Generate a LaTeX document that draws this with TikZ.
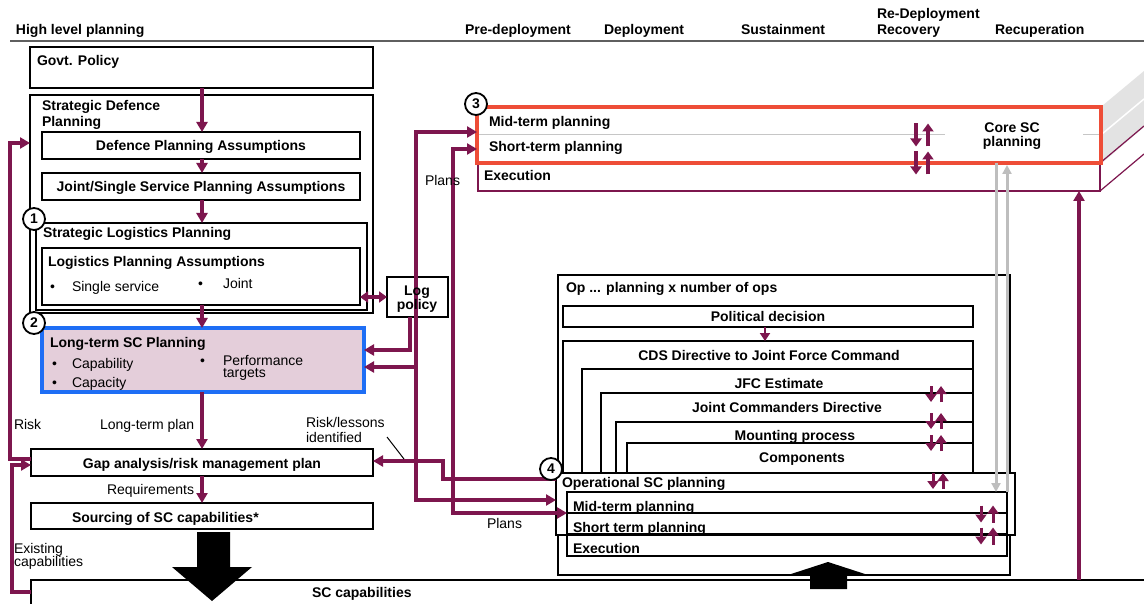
\documentclass[tikz,border=0pt]{standalone}
\usepackage{fontspec}
\setmainfont{Liberation Sans}
\usetikzlibrary{arrows.meta,fit,calc}
\definecolor{pur}{RGB}{125,22,78}
\definecolor{redc}{RGB}{238,77,55}
\definecolor{bluec}{RGB}{30,110,245}
\definecolor{pinkc}{RGB}{228,206,218}
\definecolor{grayc}{RGB}{190,190,190}
\definecolor{hdr}{RGB}{95,95,95}
\tikzset{
  box/.style={draw=black, line width=2pt, inner sep=0pt, outer sep=0pt, fill=white},
  lab/.style={inner sep=0pt, outer sep=0pt, anchor=base west, font=\fontsize{14}{16}\selectfont\bfseries},
  labc/.style={lab, anchor=base},
  reg/.style={inner sep=0pt, outer sep=0pt, anchor=base west, font=\fontsize{14}{16}\selectfont},
  conn/.style={draw=pur, line width=3.4pt},
  parr/.style={conn, -{Triangle[length=10pt,width=11pt]}},
  pboth/.style={conn, {Triangle[length=10pt,width=11pt]}-{Triangle[length=10pt,width=11pt]}},
  psmallboth/.style={conn, {Triangle[length=8pt,width=11pt]}-{Triangle[length=8pt,width=11pt]}},
  parrs/.style={draw=pur, line width=2.8pt, -{Triangle[length=8pt,width=10pt]}},
  garr/.style={draw=grayc, line width=3pt, -{Triangle[length=9pt,width=9pt]}},
  num/.style={circle, draw=black, line width=1.8pt, fill=white, minimum size=22pt, inner sep=0pt, font=\fontsize{14}{16}\selectfont\bfseries},
  pics/updn/.style args={#1/#2/#3}{code={
    \draw[pur, line width=#3pt, -{Triangle[length=8pt,width=11pt]}] (-#2,-#1) -- (-#2,#1);
    \draw[pur, line width=#3pt, -{Triangle[length=8pt,width=11pt]}] (#2,#1) -- (#2,-#1);
  }},
}
\begin{document}
\begin{tikzpicture}[x=1pt,y=-1pt]
\fill[white] (0,0) rectangle (1144,604);
\useasboundingbox (0,0) rectangle (1144,604);

% ---------- header ----------
\node[lab] (hhl) at (16,35) {High level planning};
\node[lab] (hpre) at (465,35) {Pre-deployment};
\node[lab] (hdep) at (604,35) {Deployment};
\node[lab] (hsus) at (741,35) {Sustainment};
\node[lab] (hred) at (877,19) {Re-Deployment};
\node[lab] (hrec) at (877,35) {Recovery};
\node[lab] (hrcp) at (995,35) {Recuperation};
\draw[hdr, line width=2pt] (10,41) -- (1144,41);

% ---------- 3D extrusion ----------
\fill[gray!22] (1102,106) -- (1144,71) -- (1144,127) -- (1102,163) -- cycle;
\draw[white, line width=1.5pt] (1102,134) -- (1144,99);
\draw[pur, line width=1.2pt] (1100,163) -- (1144,126);
\draw[pur, line width=1.2pt] (1100,191) -- (1144,154);

% ---------- core SC planning ----------
\node[box, draw=pur, line width=1.3pt, fit={(478,163) (1100,191)}] (exec) {};
\node[box, draw=redc, line width=4pt, fit={(477,107) (1101,163)}] (core) {};
\draw[gray!45, line width=0.8pt] (479,134) -- (945,134);
\draw[gray!45, line width=0.8pt] (1083,134) -- (1099,134);

% ---------- left column ----------
\node[box, fit={(30,47) (373,88)}] (govt) {};
\node[box, fit={(30,95) (373,313)}] (sdp) {};
\node[box, fit={(42,132) (360,159)}] (dpa) {};
\node[box, fit={(42,173) (360,200)}] (jssa) {};
\node[box, fit={(36,223) (367,310)}] (slp) {};
\node[box, fit={(42,248) (360,305)}] (lpa) {};
\node[box, draw=bluec, line width=4pt, fill=pinkc, fit={(42,328) (364,392)}] (lt) {};
\node[box, fit={(387,277) (448,317)}] (logp) {};
\node[box, fit={(31,449) (373,476)}] (gap) {};
\node[box, fit={(31,503) (373,529)}] (src) {};

% ---------- operations ----------
\node[box, fit={(558,275) (1010,575)}] (opo) {};
\node[box, fit={(563,306) (973,327)}] (pol) {};
\node[box, fit={(563,341) (973,473)}] (cds) {};
\node[box, fit={(582,369) (973,473)}] (jfc) {};
\node[box, fit={(601,393) (973,473)}] (jcd) {};
\node[box, fit={(616,422) (973,473)}] (mnt) {};
\node[box, fit={(627,443) (973,473)}] (cmp) {};
\node[box, fit={(556,473) (1015,535)}] (opsc) {};
\node[box, fill=none, fit={(567,492) (1007,556)}] (opst) {};
\draw[line width=2pt] (opst.west |- 0,513) -- (opst.east |- 0,513);
\draw[line width=2pt] (opst.west |- 0,534) -- (opst.east |- 0,534);

% SC capabilities
\node[box, fill=none, fit={(31,580) (1170,630)}] (sccap) {};

% big arrows
\fill[black] (197,532) -- (230,532) -- (230,567) -- (252,567) -- (212,601) -- (172,567) -- (197,567) -- cycle;
\fill[black] (810,589) -- (847,589) -- (847,575) -- (868,575) -- (828,562) -- (788,575) -- (810,575) -- cycle;

% ---------- connectors ----------
\draw[parr] (govt.south -| 202,0) -- (dpa.north -| 202,0);
\draw[parr] (dpa.south -| 202,0) -- (jssa.north -| 202,0);
\draw[parr] (jssa.south -| 202,0) -- (slp.north -| 202,0);
\draw[parr] (lpa.south -| 202,0) -- (lt.north -| 202,0);
\draw[parr] (lt.south -| 202,0) -- (gap.north -| 202,0);
\draw[parr] (gap.south -| 202,0) -- (src.north -| 202,0);
\draw[psmallboth] (lpa.east |- 0,297) -- (logp.west |- 0,297);
\draw[parr] (logp.south -| 410,0) -- (410,350) -- (lt.east |- 0,350);
\coordinate (ja) at (416,367);
\draw[parr] (ja) -- (416,132) -- (core.west |- 0,132);
\draw[parr] (ja) -- (lt.east |- 0,367);
\draw[parr] (ja) -- (416,500) -- (opsc.west |- 0,500);
\draw[pboth] (core.west |- 0,149) -- (453,149) -- (453,513) -- (opst.west |- 0,513);
\draw[parr] (opsc.west |- 0,479) -- (443,479) -- (443,461) -- (gap.east |- 0,461);
\draw[parr] (gap.west |- 0,459) -- (10,459) -- (10,143) -- (sdp.west |- 0,143);
\draw[parr] (sccap.west |- 0,592) -- (12,592) -- (12,465) -- (gap.west |- 0,465);
\draw[parr] (sccap.north -| 1079,0) -- (exec.south -| 1079,0);
\draw[parrs] (pol.south -| 765,0) -- (cds.north -| 765,0);
\draw[garr] (core.south -| 996,0) -- (opst.north -| 996,0);
\draw[garr, shorten >=2pt] (opst.north -| 1007,0) -- (core.south -| 1007,0);
\coordinate (rla) at (387,437);
\coordinate (rlb) at (404,459);
\draw[black, line width=1pt] (rla) -- (rlb);

% small up/down pairs
\pic at (922,135) {updn=11.5/6/3.5};
\pic at (922,163) {updn=11.5/6/3.5};
\pic at (936,394) {updn=8/5/3};
\pic at (936,421) {updn=8/5/3};
\pic at (936,443) {updn=8/5/3};
\pic at (938,481) {updn=8/5/3};
\pic at (987,514) {updn=8.5/6/3};
\pic at (987,536) {updn=8.5/6/3};

% ---------- labels ----------
\node[lab] (tgovt) at (37,66) {Govt. Policy};
\node[lab] (tsdp1) at (42,111) {Strategic Defence};
\node[lab] (tsdp2) at (42,127) {Planning};
\node[labc] (tdpa) at (201,151) {Defence Planning Assumptions};
\node[labc] (tjssa) at (201,192) {Joint/Single Service Planning Assumptions};
\node[lab] (tslp) at (43,238) {Strategic Logistics Planning};
\node[lab] (tlpa) at (48,267) {Logistics Planning Assumptions};
\node[reg] (b1) at (50,292) {•};
\node[reg] (tss) at (72,292) {Single service};
\node[reg] (b2) at (198,289) {•};
\node[reg] (tjo) at (223,289) {Joint};
\node[labc] (tlog1) at (417,296) {Log};
\node[labc] (tlog2) at (417,309) {policy};
\node[lab] (tlt) at (50,348) {Long-term SC Planning};
\node[reg] (b3) at (52,368) {•};
\node[reg] (tcap) at (72,368) {Capability};
\node[reg] (b4) at (52,387) {•};
\node[reg] (tcpc) at (72,387) {Capacity};
\node[reg] (b5) at (200,365) {•};
\node[reg] (tpf1) at (223,365) {Performance};
\node[reg] (tpf2) at (223,377) {targets};
\node[reg] (trisk) at (14,429) {Risk};
\node[reg] (tltp) at (100,429) {Long-term plan};
\node[reg] (trl1) at (306,427) {Risk/lessons};
\node[reg] (trl2) at (306,442) {identified};
\node[labc] (tgap) at (202,468) {Gap analysis/risk management plan};
\node[reg] (treq) at (107,494) {Requirements};
\node[lab] (tsrc) at (72,522) {Sourcing of SC capabilities*};
\node[reg] (tex1) at (14,553) {Existing};
\node[reg] (tex2) at (14,566) {capabilities};
\node[lab] (tscc) at (312,597) {SC capabilities};
\node[reg] (tpl1) at (425,186) {Plans};
\node[reg] (tpl2) at (487,528) {Plans};
\node[lab] (tcmid) at (489,127) {Mid-term planning};
\node[lab] (tcsht) at (489,152) {Short-term planning};
\node[lab] (tcexe) at (484,181) {Execution};
\node[labc] (tcore1) at (1012,133) {Core SC};
\node[labc] (tcore2) at (1012,147) {planning};
\node[lab] (topt) at (566,293) {Op ... planning x number of ops};
\node[labc] (tpol) at (768,322) {Political decision};
\node[labc] (tcds) at (769,360) {CDS Directive to Joint Force Command};
\node[labc] (tjfc) at (779,388) {JFC Estimate};
\node[labc] (tjcd) at (787,412) {Joint Commanders Directive};
\node[labc] (tmnt) at (795,440) {Mounting process};
\node[labc] (tcmp) at (802,462) {Components};
\node[lab] (topsc) at (562,487) {Operational SC planning};
\node[lab] (tomid) at (573,511) {Mid-term planning};
\node[lab] (tosht) at (573,532) {Short term planning};
\node[lab] (toexe) at (573,553) {Execution};

% circles
\node[num] (n1) at (34,219) {1};
\node[num] (n2) at (34,323) {2};
\node[num] (n3) at (476,104) {3};
\node[num] (n4) at (551,469) {4};
\end{tikzpicture}
\end{document}
